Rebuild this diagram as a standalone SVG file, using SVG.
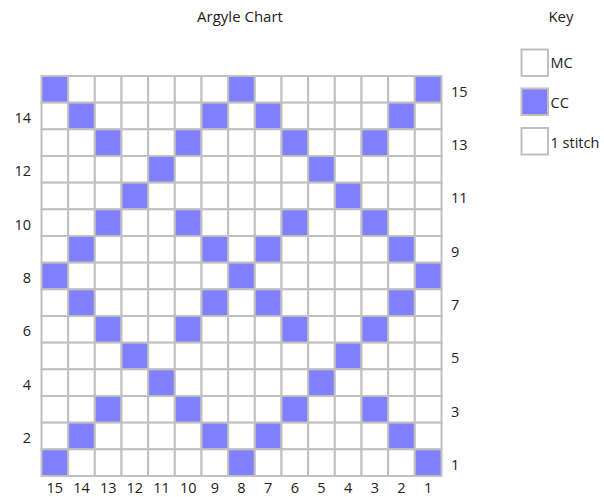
<svg xmlns="http://www.w3.org/2000/svg" width="604" height="497" viewBox="0 0 604 497">
<style>
text{font-family:"Open Sans","Noto Sans","DejaVu Sans",sans-serif;font-size:14.5px;fill:#222}
.t{font-size:15px}
.mc{fill:#fff;stroke:#c0c0c0;stroke-width:2}
.cc{fill:#8080ff;stroke:#c0c0c0;stroke-width:2}
.l{text-anchor:end}
.m{text-anchor:middle}
</style>
<rect width="604" height="497" fill="#fff"/>
<text id="title" class="m t" x="240" y="22">Argyle Chart</text>
<g id="chart">
<g id="r15"><rect class="cc" x="41.5" y="76" width="26.67" height="26.67"/><rect class="mc" x="68.17" y="76" width="26.67" height="26.67"/><rect class="mc" x="94.83" y="76" width="26.67" height="26.67"/><rect class="mc" x="121.5" y="76" width="26.67" height="26.67"/><rect class="mc" x="148.17" y="76" width="26.67" height="26.67"/><rect class="mc" x="174.83" y="76" width="26.67" height="26.67"/><rect class="mc" x="201.5" y="76" width="26.67" height="26.67"/><rect class="cc" x="228.17" y="76" width="26.67" height="26.67"/><rect class="mc" x="254.83" y="76" width="26.67" height="26.67"/><rect class="mc" x="281.5" y="76" width="26.67" height="26.67"/><rect class="mc" x="308.17" y="76" width="26.67" height="26.67"/><rect class="mc" x="334.83" y="76" width="26.67" height="26.67"/><rect class="mc" x="361.5" y="76" width="26.67" height="26.67"/><rect class="mc" x="388.17" y="76" width="26.67" height="26.67"/><rect class="cc" x="414.83" y="76" width="26.67" height="26.67"/></g>
<g id="r14"><rect class="mc" x="41.5" y="102.67" width="26.67" height="26.67"/><rect class="cc" x="68.17" y="102.67" width="26.67" height="26.67"/><rect class="mc" x="94.83" y="102.67" width="26.67" height="26.67"/><rect class="mc" x="121.5" y="102.67" width="26.67" height="26.67"/><rect class="mc" x="148.17" y="102.67" width="26.67" height="26.67"/><rect class="mc" x="174.83" y="102.67" width="26.67" height="26.67"/><rect class="cc" x="201.5" y="102.67" width="26.67" height="26.67"/><rect class="mc" x="228.17" y="102.67" width="26.67" height="26.67"/><rect class="cc" x="254.83" y="102.67" width="26.67" height="26.67"/><rect class="mc" x="281.5" y="102.67" width="26.67" height="26.67"/><rect class="mc" x="308.17" y="102.67" width="26.67" height="26.67"/><rect class="mc" x="334.83" y="102.67" width="26.67" height="26.67"/><rect class="mc" x="361.5" y="102.67" width="26.67" height="26.67"/><rect class="cc" x="388.17" y="102.67" width="26.67" height="26.67"/><rect class="mc" x="414.83" y="102.67" width="26.67" height="26.67"/></g>
<g id="r13"><rect class="mc" x="41.5" y="129.33" width="26.67" height="26.67"/><rect class="mc" x="68.17" y="129.33" width="26.67" height="26.67"/><rect class="cc" x="94.83" y="129.33" width="26.67" height="26.67"/><rect class="mc" x="121.5" y="129.33" width="26.67" height="26.67"/><rect class="mc" x="148.17" y="129.33" width="26.67" height="26.67"/><rect class="cc" x="174.83" y="129.33" width="26.67" height="26.67"/><rect class="mc" x="201.5" y="129.33" width="26.67" height="26.67"/><rect class="mc" x="228.17" y="129.33" width="26.67" height="26.67"/><rect class="mc" x="254.83" y="129.33" width="26.67" height="26.67"/><rect class="cc" x="281.5" y="129.33" width="26.67" height="26.67"/><rect class="mc" x="308.17" y="129.33" width="26.67" height="26.67"/><rect class="mc" x="334.83" y="129.33" width="26.67" height="26.67"/><rect class="cc" x="361.5" y="129.33" width="26.67" height="26.67"/><rect class="mc" x="388.17" y="129.33" width="26.67" height="26.67"/><rect class="mc" x="414.83" y="129.33" width="26.67" height="26.67"/></g>
<g id="r12"><rect class="mc" x="41.5" y="156" width="26.67" height="26.67"/><rect class="mc" x="68.17" y="156" width="26.67" height="26.67"/><rect class="mc" x="94.83" y="156" width="26.67" height="26.67"/><rect class="mc" x="121.5" y="156" width="26.67" height="26.67"/><rect class="cc" x="148.17" y="156" width="26.67" height="26.67"/><rect class="mc" x="174.83" y="156" width="26.67" height="26.67"/><rect class="mc" x="201.5" y="156" width="26.67" height="26.67"/><rect class="mc" x="228.17" y="156" width="26.67" height="26.67"/><rect class="mc" x="254.83" y="156" width="26.67" height="26.67"/><rect class="mc" x="281.5" y="156" width="26.67" height="26.67"/><rect class="cc" x="308.17" y="156" width="26.67" height="26.67"/><rect class="mc" x="334.83" y="156" width="26.67" height="26.67"/><rect class="mc" x="361.5" y="156" width="26.67" height="26.67"/><rect class="mc" x="388.17" y="156" width="26.67" height="26.67"/><rect class="mc" x="414.83" y="156" width="26.67" height="26.67"/></g>
<g id="r11"><rect class="mc" x="41.5" y="182.67" width="26.67" height="26.67"/><rect class="mc" x="68.17" y="182.67" width="26.67" height="26.67"/><rect class="mc" x="94.83" y="182.67" width="26.67" height="26.67"/><rect class="cc" x="121.5" y="182.67" width="26.67" height="26.67"/><rect class="mc" x="148.17" y="182.67" width="26.67" height="26.67"/><rect class="mc" x="174.83" y="182.67" width="26.67" height="26.67"/><rect class="mc" x="201.5" y="182.67" width="26.67" height="26.67"/><rect class="mc" x="228.17" y="182.67" width="26.67" height="26.67"/><rect class="mc" x="254.83" y="182.67" width="26.67" height="26.67"/><rect class="mc" x="281.5" y="182.67" width="26.67" height="26.67"/><rect class="mc" x="308.17" y="182.67" width="26.67" height="26.67"/><rect class="cc" x="334.83" y="182.67" width="26.67" height="26.67"/><rect class="mc" x="361.5" y="182.67" width="26.67" height="26.67"/><rect class="mc" x="388.17" y="182.67" width="26.67" height="26.67"/><rect class="mc" x="414.83" y="182.67" width="26.67" height="26.67"/></g>
<g id="r10"><rect class="mc" x="41.5" y="209.33" width="26.67" height="26.67"/><rect class="mc" x="68.17" y="209.33" width="26.67" height="26.67"/><rect class="cc" x="94.83" y="209.33" width="26.67" height="26.67"/><rect class="mc" x="121.5" y="209.33" width="26.67" height="26.67"/><rect class="mc" x="148.17" y="209.33" width="26.67" height="26.67"/><rect class="cc" x="174.83" y="209.33" width="26.67" height="26.67"/><rect class="mc" x="201.5" y="209.33" width="26.67" height="26.67"/><rect class="mc" x="228.17" y="209.33" width="26.67" height="26.67"/><rect class="mc" x="254.83" y="209.33" width="26.67" height="26.67"/><rect class="cc" x="281.5" y="209.33" width="26.67" height="26.67"/><rect class="mc" x="308.17" y="209.33" width="26.67" height="26.67"/><rect class="mc" x="334.83" y="209.33" width="26.67" height="26.67"/><rect class="cc" x="361.5" y="209.33" width="26.67" height="26.67"/><rect class="mc" x="388.17" y="209.33" width="26.67" height="26.67"/><rect class="mc" x="414.83" y="209.33" width="26.67" height="26.67"/></g>
<g id="r9"><rect class="mc" x="41.5" y="236" width="26.67" height="26.67"/><rect class="cc" x="68.17" y="236" width="26.67" height="26.67"/><rect class="mc" x="94.83" y="236" width="26.67" height="26.67"/><rect class="mc" x="121.5" y="236" width="26.67" height="26.67"/><rect class="mc" x="148.17" y="236" width="26.67" height="26.67"/><rect class="mc" x="174.83" y="236" width="26.67" height="26.67"/><rect class="cc" x="201.5" y="236" width="26.67" height="26.67"/><rect class="mc" x="228.17" y="236" width="26.67" height="26.67"/><rect class="cc" x="254.83" y="236" width="26.67" height="26.67"/><rect class="mc" x="281.5" y="236" width="26.67" height="26.67"/><rect class="mc" x="308.17" y="236" width="26.67" height="26.67"/><rect class="mc" x="334.83" y="236" width="26.67" height="26.67"/><rect class="mc" x="361.5" y="236" width="26.67" height="26.67"/><rect class="cc" x="388.17" y="236" width="26.67" height="26.67"/><rect class="mc" x="414.83" y="236" width="26.67" height="26.67"/></g>
<g id="r8"><rect class="cc" x="41.5" y="262.67" width="26.67" height="26.67"/><rect class="mc" x="68.17" y="262.67" width="26.67" height="26.67"/><rect class="mc" x="94.83" y="262.67" width="26.67" height="26.67"/><rect class="mc" x="121.5" y="262.67" width="26.67" height="26.67"/><rect class="mc" x="148.17" y="262.67" width="26.67" height="26.67"/><rect class="mc" x="174.83" y="262.67" width="26.67" height="26.67"/><rect class="mc" x="201.5" y="262.67" width="26.67" height="26.67"/><rect class="cc" x="228.17" y="262.67" width="26.67" height="26.67"/><rect class="mc" x="254.83" y="262.67" width="26.67" height="26.67"/><rect class="mc" x="281.5" y="262.67" width="26.67" height="26.67"/><rect class="mc" x="308.17" y="262.67" width="26.67" height="26.67"/><rect class="mc" x="334.83" y="262.67" width="26.67" height="26.67"/><rect class="mc" x="361.5" y="262.67" width="26.67" height="26.67"/><rect class="mc" x="388.17" y="262.67" width="26.67" height="26.67"/><rect class="cc" x="414.83" y="262.67" width="26.67" height="26.67"/></g>
<g id="r7"><rect class="mc" x="41.5" y="289.33" width="26.67" height="26.67"/><rect class="cc" x="68.17" y="289.33" width="26.67" height="26.67"/><rect class="mc" x="94.83" y="289.33" width="26.67" height="26.67"/><rect class="mc" x="121.5" y="289.33" width="26.67" height="26.67"/><rect class="mc" x="148.17" y="289.33" width="26.67" height="26.67"/><rect class="mc" x="174.83" y="289.33" width="26.67" height="26.67"/><rect class="cc" x="201.5" y="289.33" width="26.67" height="26.67"/><rect class="mc" x="228.17" y="289.33" width="26.67" height="26.67"/><rect class="cc" x="254.83" y="289.33" width="26.67" height="26.67"/><rect class="mc" x="281.5" y="289.33" width="26.67" height="26.67"/><rect class="mc" x="308.17" y="289.33" width="26.67" height="26.67"/><rect class="mc" x="334.83" y="289.33" width="26.67" height="26.67"/><rect class="mc" x="361.5" y="289.33" width="26.67" height="26.67"/><rect class="cc" x="388.17" y="289.33" width="26.67" height="26.67"/><rect class="mc" x="414.83" y="289.33" width="26.67" height="26.67"/></g>
<g id="r6"><rect class="mc" x="41.5" y="316" width="26.67" height="26.67"/><rect class="mc" x="68.17" y="316" width="26.67" height="26.67"/><rect class="cc" x="94.83" y="316" width="26.67" height="26.67"/><rect class="mc" x="121.5" y="316" width="26.67" height="26.67"/><rect class="mc" x="148.17" y="316" width="26.67" height="26.67"/><rect class="cc" x="174.83" y="316" width="26.67" height="26.67"/><rect class="mc" x="201.5" y="316" width="26.67" height="26.67"/><rect class="mc" x="228.17" y="316" width="26.67" height="26.67"/><rect class="mc" x="254.83" y="316" width="26.67" height="26.67"/><rect class="cc" x="281.5" y="316" width="26.67" height="26.67"/><rect class="mc" x="308.17" y="316" width="26.67" height="26.67"/><rect class="mc" x="334.83" y="316" width="26.67" height="26.67"/><rect class="cc" x="361.5" y="316" width="26.67" height="26.67"/><rect class="mc" x="388.17" y="316" width="26.67" height="26.67"/><rect class="mc" x="414.83" y="316" width="26.67" height="26.67"/></g>
<g id="r5"><rect class="mc" x="41.5" y="342.67" width="26.67" height="26.67"/><rect class="mc" x="68.17" y="342.67" width="26.67" height="26.67"/><rect class="mc" x="94.83" y="342.67" width="26.67" height="26.67"/><rect class="cc" x="121.5" y="342.67" width="26.67" height="26.67"/><rect class="mc" x="148.17" y="342.67" width="26.67" height="26.67"/><rect class="mc" x="174.83" y="342.67" width="26.67" height="26.67"/><rect class="mc" x="201.5" y="342.67" width="26.67" height="26.67"/><rect class="mc" x="228.17" y="342.67" width="26.67" height="26.67"/><rect class="mc" x="254.83" y="342.67" width="26.67" height="26.67"/><rect class="mc" x="281.5" y="342.67" width="26.67" height="26.67"/><rect class="mc" x="308.17" y="342.67" width="26.67" height="26.67"/><rect class="cc" x="334.83" y="342.67" width="26.67" height="26.67"/><rect class="mc" x="361.5" y="342.67" width="26.67" height="26.67"/><rect class="mc" x="388.17" y="342.67" width="26.67" height="26.67"/><rect class="mc" x="414.83" y="342.67" width="26.67" height="26.67"/></g>
<g id="r4"><rect class="mc" x="41.5" y="369.33" width="26.67" height="26.67"/><rect class="mc" x="68.17" y="369.33" width="26.67" height="26.67"/><rect class="mc" x="94.83" y="369.33" width="26.67" height="26.67"/><rect class="mc" x="121.5" y="369.33" width="26.67" height="26.67"/><rect class="cc" x="148.17" y="369.33" width="26.67" height="26.67"/><rect class="mc" x="174.83" y="369.33" width="26.67" height="26.67"/><rect class="mc" x="201.5" y="369.33" width="26.67" height="26.67"/><rect class="mc" x="228.17" y="369.33" width="26.67" height="26.67"/><rect class="mc" x="254.83" y="369.33" width="26.67" height="26.67"/><rect class="mc" x="281.5" y="369.33" width="26.67" height="26.67"/><rect class="cc" x="308.17" y="369.33" width="26.67" height="26.67"/><rect class="mc" x="334.83" y="369.33" width="26.67" height="26.67"/><rect class="mc" x="361.5" y="369.33" width="26.67" height="26.67"/><rect class="mc" x="388.17" y="369.33" width="26.67" height="26.67"/><rect class="mc" x="414.83" y="369.33" width="26.67" height="26.67"/></g>
<g id="r3"><rect class="mc" x="41.5" y="396" width="26.67" height="26.67"/><rect class="mc" x="68.17" y="396" width="26.67" height="26.67"/><rect class="cc" x="94.83" y="396" width="26.67" height="26.67"/><rect class="mc" x="121.5" y="396" width="26.67" height="26.67"/><rect class="mc" x="148.17" y="396" width="26.67" height="26.67"/><rect class="cc" x="174.83" y="396" width="26.67" height="26.67"/><rect class="mc" x="201.5" y="396" width="26.67" height="26.67"/><rect class="mc" x="228.17" y="396" width="26.67" height="26.67"/><rect class="mc" x="254.83" y="396" width="26.67" height="26.67"/><rect class="cc" x="281.5" y="396" width="26.67" height="26.67"/><rect class="mc" x="308.17" y="396" width="26.67" height="26.67"/><rect class="mc" x="334.83" y="396" width="26.67" height="26.67"/><rect class="cc" x="361.5" y="396" width="26.67" height="26.67"/><rect class="mc" x="388.17" y="396" width="26.67" height="26.67"/><rect class="mc" x="414.83" y="396" width="26.67" height="26.67"/></g>
<g id="r2"><rect class="mc" x="41.5" y="422.67" width="26.67" height="26.67"/><rect class="cc" x="68.17" y="422.67" width="26.67" height="26.67"/><rect class="mc" x="94.83" y="422.67" width="26.67" height="26.67"/><rect class="mc" x="121.5" y="422.67" width="26.67" height="26.67"/><rect class="mc" x="148.17" y="422.67" width="26.67" height="26.67"/><rect class="mc" x="174.83" y="422.67" width="26.67" height="26.67"/><rect class="cc" x="201.5" y="422.67" width="26.67" height="26.67"/><rect class="mc" x="228.17" y="422.67" width="26.67" height="26.67"/><rect class="cc" x="254.83" y="422.67" width="26.67" height="26.67"/><rect class="mc" x="281.5" y="422.67" width="26.67" height="26.67"/><rect class="mc" x="308.17" y="422.67" width="26.67" height="26.67"/><rect class="mc" x="334.83" y="422.67" width="26.67" height="26.67"/><rect class="mc" x="361.5" y="422.67" width="26.67" height="26.67"/><rect class="cc" x="388.17" y="422.67" width="26.67" height="26.67"/><rect class="mc" x="414.83" y="422.67" width="26.67" height="26.67"/></g>
<g id="r1"><rect class="cc" x="41.5" y="449.33" width="26.67" height="26.67"/><rect class="mc" x="68.17" y="449.33" width="26.67" height="26.67"/><rect class="mc" x="94.83" y="449.33" width="26.67" height="26.67"/><rect class="mc" x="121.5" y="449.33" width="26.67" height="26.67"/><rect class="mc" x="148.17" y="449.33" width="26.67" height="26.67"/><rect class="mc" x="174.83" y="449.33" width="26.67" height="26.67"/><rect class="mc" x="201.5" y="449.33" width="26.67" height="26.67"/><rect class="cc" x="228.17" y="449.33" width="26.67" height="26.67"/><rect class="mc" x="254.83" y="449.33" width="26.67" height="26.67"/><rect class="mc" x="281.5" y="449.33" width="26.67" height="26.67"/><rect class="mc" x="308.17" y="449.33" width="26.67" height="26.67"/><rect class="mc" x="334.83" y="449.33" width="26.67" height="26.67"/><rect class="mc" x="361.5" y="449.33" width="26.67" height="26.67"/><rect class="mc" x="388.17" y="449.33" width="26.67" height="26.67"/><rect class="cc" x="414.83" y="449.33" width="26.67" height="26.67"/></g>
</g>
<g id="row-labels-left">
<text class="l" x="31" y="123">14</text>
<text class="l" x="31" y="176.3">12</text>
<text class="l" x="31" y="229.7">10</text>
<text class="l" x="31" y="283">8</text>
<text class="l" x="31" y="336.3">6</text>
<text class="l" x="31" y="389.7">4</text>
<text class="l" x="31" y="443">2</text>
</g>
<g id="row-labels-right">
<text x="451" y="96.7">15</text>
<text x="451" y="150">13</text>
<text x="451" y="203.3">11</text>
<text x="451" y="256.7">9</text>
<text x="451" y="310">7</text>
<text x="451" y="363.3">5</text>
<text x="451" y="416.7">3</text>
<text x="451" y="470">1</text>
</g>
<g id="col-labels">
<text class="m" x="54.8" y="492.5">15</text>
<text class="m" x="81.5" y="492.5">14</text>
<text class="m" x="108.2" y="492.5">13</text>
<text class="m" x="134.8" y="492.5">12</text>
<text class="m" x="161.5" y="492.5">11</text>
<text class="m" x="188.2" y="492.5">10</text>
<text class="m" x="214.8" y="492.5">9</text>
<text class="m" x="241.5" y="492.5">8</text>
<text class="m" x="268.2" y="492.5">7</text>
<text class="m" x="294.8" y="492.5">6</text>
<text class="m" x="321.5" y="492.5">5</text>
<text class="m" x="348.2" y="492.5">4</text>
<text class="m" x="374.8" y="492.5">3</text>
<text class="m" x="401.5" y="492.5">2</text>
<text class="m" x="428.2" y="492.5">1</text>
</g>
<g id="key">
<text class="m t" x="561" y="22">Key</text>
<g id="key-mc"><rect class="mc" x="521.5" y="49.5" width="26.5" height="26.5"/><text x="550.5" y="68">MC</text></g>
<g id="key-cc"><rect class="cc" x="521.5" y="88.5" width="26.5" height="26.5"/><text x="550.5" y="108">CC</text></g>
<g id="key-stitch"><rect class="mc" x="521.5" y="128" width="26.5" height="26.5"/><text x="550.5" y="147.5">1 stitch</text></g>
</g>
</svg>
